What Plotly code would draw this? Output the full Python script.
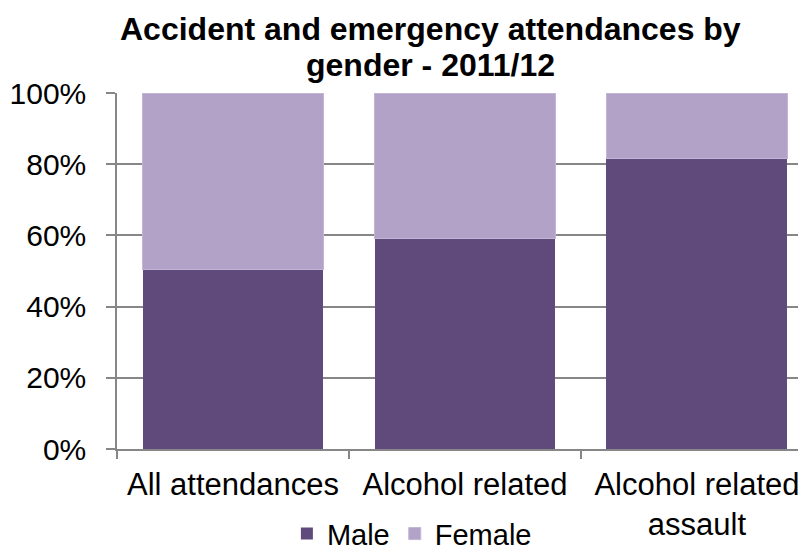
import plotly.graph_objects as go

categories = ["All attendances", "Alcohol related", "Alcohol related<br>assault"]
male = [50.5, 59.2, 81.7]
female = [49.5, 40.8, 18.3]
title_lines = ["Accident and emergency attendances by", "gender - 2011/12"]

MALE_C = "#604A7B"
FEMALE_C = "#B3A2C7"
GRID = "#878787"
FONT = "Liberation Sans, Arial, sans-serif"

fig = go.Figure()
fig.add_bar(x=categories, y=male, name="Male", marker=dict(color=MALE_C, line=dict(width=0)))
fig.add_bar(x=categories, y=female, name="Female",
            marker=dict(color=FEMALE_C, line=dict(color="#C3B6D4", width=1)))

fig.update_layout(
    barmode="stack",
    bargap=0.22,
    width=798, height=545,
    margin=dict(l=109, r=0, t=85, b=104, autoexpand=False),
    paper_bgcolor="white", plot_bgcolor="white",
    font=dict(family=FONT, size=30, color="black"),
    legend=dict(orientation="h", x=0.428, xanchor="center", y=-0.238, yanchor="middle",
                font=dict(family=FONT, size=29), traceorder="normal",
                itemwidth=30, tracegroupgap=0,
                bgcolor="rgba(0,0,0,0)"),
    showlegend=True,
)
for txt, yy in zip(title_lines, [1.18, 1.079]):
    fig.add_annotation(text=f"<b>{txt}</b>", xref="paper", yref="paper",
                       x=0.4557, y=yy, xanchor="center", yanchor="middle",
                       showarrow=False, font=dict(family=FONT, size=32, color="black"))

fig.update_xaxes(
    type="category",
    range=[-0.5, 2.47],
    showline=True, linecolor=GRID, linewidth=1.5,
    ticks="outside", tickson="boundaries", ticklen=8, tickcolor=GRID, tickwidth=1.5,
    showgrid=False,
    tickfont=dict(family=FONT, size=31),
    ticklabelstandoff=7,
)
fig.update_yaxes(
    range=[0, 100],
    tickvals=[0, 20, 40, 60, 80, 100],
    ticktext=["0%", "20%", "40%", "60%", "80%", "100%"],
    showline=True, linecolor=GRID, linewidth=1.5,
    ticks="outside", ticklen=9, tickcolor=GRID, tickwidth=1.5,
    showgrid=True, gridcolor=GRID, gridwidth=1.5,
    zeroline=False,
    tickfont=dict(family=FONT, size=30),
    ticklabelstandoff=14,
)

fig.write_html("out.html")
